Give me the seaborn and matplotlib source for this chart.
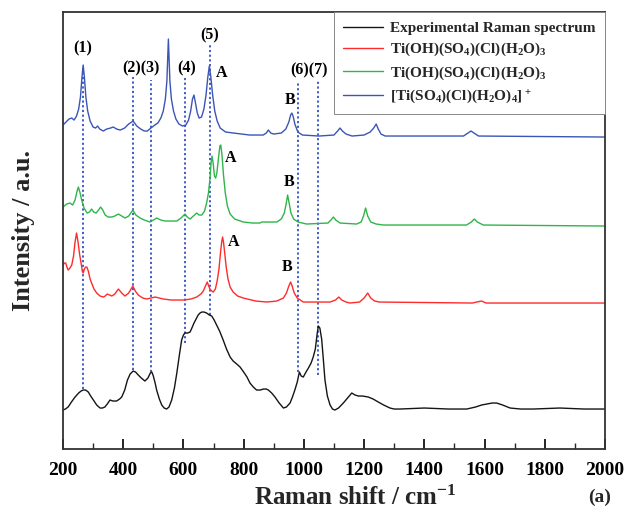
import matplotlib
matplotlib.use('Agg')
import matplotlib.pyplot as plt
from matplotlib.ticker import MultipleLocator
import pandas as pd
import seaborn as sns

sns.set_theme(style='ticks')
plt.rcParams['font.family'] = ['Liberation Serif', 'DejaVu Serif']
plt.rcParams['font.weight'] = 'bold'
plt.rcParams['mathtext.fontset'] = 'custom'
plt.rcParams['mathtext.rm'] = 'Liberation Serif'
plt.rcParams['mathtext.default'] = 'regular'

# spectra (wavenumber, stacked intensity in a.u.)
exp_x = [200, 208, 217, 228, 240, 252, 260, 267, 275, 284, 292, 301, 312, 323,
         331, 339, 347, 356, 366, 378, 388, 395, 405, 414, 423, 433, 441, 450,
         460, 472, 482, 490, 495, 500, 506, 511, 520, 528, 536, 544, 552, 561,
         570, 578, 586, 594, 600, 605, 614, 622, 628, 635, 642, 649, 655, 661,
         668, 677, 686, 694, 702, 710, 720, 732, 743, 755, 765, 777, 788, 800,
         811, 821, 832, 843, 855, 866, 875, 882, 893, 904, 918, 932, 942, 954,
         962, 970, 978, 985, 991, 998, 1007, 1015, 1024, 1031, 1038, 1044,
         1048, 1053, 1059, 1064, 1070, 1078, 1087, 1095, 1103, 1115, 1131,
         1145, 1159, 1170, 1181, 1195, 1214, 1230, 1247, 1265, 1286, 1300,
         1319, 1400, 1480, 1541, 1570, 1590, 1607, 1625, 1640, 1660, 1685,
         1720, 1762, 1850, 1930, 2000]
exp_y = [39, 40, 42, 47, 52, 56, 58, 59, 59, 57, 53, 49, 44, 41,
         41, 42, 45, 49, 48, 48, 50, 52, 59, 69, 75, 78, 77, 74,
         71, 68, 71, 76, 77, 73, 66, 59, 50, 44, 41, 40, 42, 49,
         61, 76, 93, 109, 114, 116, 116, 117, 121, 126, 130, 134, 136, 137,
         137, 136, 134, 133, 129, 124, 118, 109, 100, 92, 88, 85, 82, 77,
         72, 66, 62, 59, 59, 60, 60, 59, 56, 52, 46, 41, 42, 46,
         52, 59, 67, 77, 73, 72, 77, 81, 86, 92, 100, 115,
         123, 121, 110, 92, 69, 53, 44, 40, 39, 41, 46,
         51, 56, 54, 53, 53, 52, 50, 47, 44, 41, 40,
         40, 41, 40, 40, 42, 44, 45, 46, 46, 44, 41,
         40, 40, 41, 40, 40]

red_x = [200, 205, 209, 213, 217, 223, 229, 235, 240, 245, 250, 255, 260, 264,
         267, 271, 275, 279, 284, 290, 295, 303, 312, 323, 334, 340, 347, 355,
         362, 372, 384, 395, 406, 418, 432, 440, 450, 465, 478, 492, 506, 520,
         533, 560, 600, 625, 644, 658, 666, 673, 679, 684, 688, 694, 699, 706,
         712, 718, 723, 727, 730, 733, 737, 742, 748, 755, 765, 780, 799, 840,
         877, 910, 932, 942, 950, 956, 961, 968, 978, 998, 1087, 1105, 1116,
         1126, 1140, 1153, 1185, 1200, 1212, 1222, 1235, 1250, 1560, 1574,
         1590, 1605, 2000]
red_y = [184, 186, 186, 182, 179, 181, 184, 193, 207, 216, 207, 195, 186, 178,
         176, 180, 182, 182, 178, 170, 166, 160, 156, 153, 152, 153, 155, 154,
         153, 155, 160, 156, 153, 156, 163, 158, 154, 151, 150, 151, 152, 151,
         150, 149, 149, 150, 152, 155, 158, 163, 167, 163, 160, 158, 157, 160,
         168, 180, 196, 207, 212, 207, 196, 182, 170, 162, 157, 153, 151, 148,
         147, 148, 151, 156, 163, 167, 163, 156, 151, 147, 147, 149, 152,
         149, 147, 146, 147, 151, 156, 151, 148, 147, 146, 147,
         148, 146, 146]

green_x = [200, 212, 223, 232, 240, 246, 251, 256, 262, 270, 280, 288, 295,
           302, 310, 318, 325, 332, 340, 350, 362, 372, 384, 395, 406, 418,
           432, 442, 456, 470, 489, 500, 511, 525, 539, 560, 578, 592, 605,
           613, 622, 633, 644, 652, 661, 670, 677, 683, 688, 692, 695, 699,
           703, 707, 711, 716, 721, 724, 728, 733, 739, 746, 755, 770, 799,
           830, 854, 860, 880, 910, 925, 935, 941, 946, 951, 957, 966, 981,
           1009, 1080, 1090, 1098, 1106, 1120, 1175, 1190, 1198, 1205, 1212,
           1222, 1240, 1264, 1540, 1556, 1566, 1576, 1596, 2000]
green_y = [242, 245, 246, 244, 249, 257, 262, 257, 249, 241, 236, 237, 240,
           237, 236, 239, 242, 239, 234, 232, 232, 233, 235, 233, 231, 233,
           239, 234, 231, 229, 227, 229, 231, 229, 228, 228, 228, 231, 235,
           232, 230, 233, 236, 234, 234, 238, 246, 256, 270, 287, 293, 285,
           273, 271, 276, 290, 303, 304, 294, 274, 256, 243, 235, 230, 227,
           226, 226, 227, 227, 227, 230, 236, 245, 254, 246, 236, 230, 227,
           225, 226, 229, 232, 229, 226, 225, 227, 233, 241, 233,
           227, 225, 224, 224, 227, 230, 227, 224, 223]

blue_x = [200, 210, 220, 229, 237, 245, 252, 258, 263, 267, 271, 276, 282,
          290, 300, 308, 315, 322, 334, 345, 358, 367, 378, 390, 405, 418,
          433, 445, 458, 470, 480, 492, 505, 515, 525, 533, 540, 545, 550,
          555, 560, 567, 575, 585, 597, 608, 617, 624, 630, 635, 640, 646,
          652, 660, 668, 675, 681, 686, 691, 697, 704, 712, 722, 740, 766,
          820, 865, 875, 882, 890, 900, 925, 940, 950, 956, 960, 964, 970,
          980, 995, 1050, 1100, 1112, 1120, 1128, 1140, 1160, 1200, 1220,
          1232, 1240, 1247, 1256, 1270, 1400, 1530, 1545, 1555, 1565, 1580,
          2000]
blue_y = [324, 327, 330, 331, 329, 333, 340, 352, 372, 384, 372, 352, 338,
          328, 322, 321, 323, 320, 318, 320, 321, 322, 320, 319, 321, 325,
          328, 323, 320, 318, 318, 321, 324, 326, 331, 338, 350, 368, 410,
          368, 350, 338, 330, 325, 323, 324, 329, 338, 350, 354, 346, 336,
          331, 332, 340, 354, 372, 383, 372, 354, 338, 328, 321, 317, 316,
          314, 314, 316, 319, 316, 315, 316, 320, 327, 334, 336, 333, 325,
          317, 314, 313, 314, 318, 321, 318, 315, 313, 314, 317,
          321, 325, 320, 315, 313, 313, 313, 316, 318, 316, 313,
          312]

# dotted guide lines: position, upper end, lower end
guide_x = [267, 433, 492, 605, 688, 981, 1048]
guide_top = [384, 372, 369, 372, 406, 367, 369]
guide_bottom = [60, 79, 77, 106, 134, 77, 74]

# peak labels
peak_text = ['(1)', '(2)(3)', '(4)', '(5)', '(6)(7)',
             'A', 'B', 'A', 'B', 'A', 'B']
peak_x = [267, 459, 612, 688, 1017, 727, 954, 755, 952, 766, 943]
peak_y = [401, 381, 381, 414, 379, 376, 349, 291, 267, 207, 182]

names = ['Experimental Raman spectrum',
         'Ti(OH)(SO$_4$)(Cl)(H$_2$O)$_3$',
         'Ti(OH)(SO$_4$)(Cl)(H$_2$O)$_3$',
         '[Ti(SO$_4$)(Cl)(H$_2$O)$_4]^+$']
colors = ['#151515', '#ff2b2b', '#2fb54a', '#3b55b5']

fig = plt.figure(figsize=(6.3, 5.12), dpi=100)
ax = fig.add_axes([0.1, 0.123, 0.8603, 0.8535])

curves = [(exp_x, exp_y), (red_x, red_y), (green_x, green_y), (blue_x, blue_y)]
for (xs, ys), name, col in zip(curves, names, colors):
    df = pd.DataFrame({'shift': xs, 'intensity': ys})
    sns.lineplot(data=df, x='shift', y='intensity', sort=False, ax=ax,
                 color=col, linewidth=1.0, label=name)

ax.vlines(guide_x, guide_bottom, guide_top, colors='#3350c0',
          linestyles=(0, (1.2, 1.4)), linewidth=1.3, zorder=1)

for t, x, y in zip(peak_text, peak_x, peak_y):
    ax.text(x, y, t, ha='center', va='center', fontsize=11.5,
            fontweight='bold', color='black')

ax.set_xlim(200, 2000)
ax.set_ylim(0, 437)
ax.set_yticks([])
ax.xaxis.set_major_locator(MultipleLocator(200))
ax.xaxis.set_minor_locator(MultipleLocator(100))
ax.tick_params(axis='x', which='major', direction='in', length=7, width=1.2,
               labelsize=14, pad=9, colors='black')
ax.tick_params(axis='x', which='minor', direction='in', length=4, width=1.0)
for s in ax.spines.values():
    s.set_linewidth(1.3)
    s.set_color('#333333')

ax.set_xlabel('Raman shift / cm$^{-1}$', fontsize=18, fontweight='bold')
ax.xaxis.set_label_coords(0.54, -0.085)
ax.set_ylabel('Intensity / a.u.', fontsize=19, fontweight='bold')
ax.yaxis.set_label_coords(-0.052, 0.5)

leg = ax.legend(loc='upper right', borderaxespad=0, fancybox=False,
                edgecolor='#888888', framealpha=1, fontsize=11,
                handlelength=2.6, handletextpad=0.5, labelspacing=0.4,
                borderpad=0.6)
leg.get_frame().set_linewidth(0.7)
for txt in leg.get_texts():
    txt.set_fontweight('bold')

fig.text(600 / 630, 1 - 497 / 512, '(a)', ha='center', va='center',
         fontsize=14, fontweight='bold')

plt.savefig('out.png', dpi=100)
